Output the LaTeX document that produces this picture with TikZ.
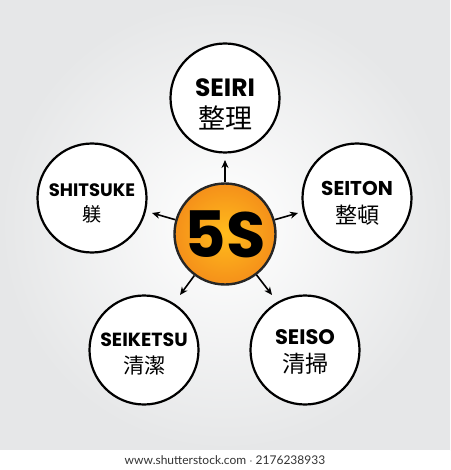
\documentclass[tikz,border=0pt]{standalone}
\usepackage{fontspec}
\usetikzlibrary{arrows.meta}
\newfontfamily\markfont{Poppins}
\newfontfamily\kanjifont{Noto Sans CJK JP}
\newfontfamily\footfont{Lato}
\definecolor{bggrey}{HTML}{E6E7E8}
\definecolor{coreorange}{HTML}{F5901A}
\definecolor{coreyellow}{HTML}{FFBC1C}
\newcommand{\stagelabel}[4]{{\markfont\bfseries\fontsize{#2}{#2}\selectfont #1}\\[8pt]%
  {\kanjifont\fontsize{#4}{#4}\selectfont #3}}

\begin{document}
\begin{tikzpicture}[x=1pt,y=-1pt,
    stage/.style={circle,draw=black,line width=2.2pt,fill=white,minimum size=109pt,inner sep=0pt},
    stagetext/.style={align=center,inner sep=0pt},
    stream/.style={-{Stealth[length=8pt,width=7pt]},line width=1.6pt}]
    % background
    \useasboundingbox (0,0) rectangle (450,470);
    \shade[inner color=white,outer color=bggrey] (0,0) rectangle (450,450);
    \fill[white] (0,450) rectangle (450,470);

    % 5S core
    \node [circle,draw=black!85,line width=2.4pt,minimum size=101pt,inner sep=0pt,
           inner color=coreyellow,outer color=coreorange] (core) at (225,234)
          {\markfont\bfseries\fontsize{64}{64}\selectfont 5S};

    % the five stages
    \node [stage] (seiri)    at (225,98)  {};
    \node [stage] (seiton)   at (357,198) {};
    \node [stage] (seiso)    at (305,350) {};
    \node [stage] (seiketsu) at (144,350) {};
    \node [stage] (shitsuke) at (92,198)  {};

    \node [stagetext] (seiri text)    at ([yshift=-6pt]seiri)    {\stagelabel{SEIRI}{25}{整理}{27}};
    \node [stagetext] (seiton text)   at ([yshift=-5pt]seiton)   {\stagelabel{SEITON}{20}{整頓}{22}};
    \node [stagetext] (seiso text)    at ([yshift=-2pt]seiso)    {\stagelabel{SEISO}{21}{清掃}{23}};
    \node [stagetext] (seiketsu text) at ([yshift=-4pt]seiketsu) {\stagelabel{SEIKETSU}{19}{清潔}{21}};
    \node [stagetext] (shitsuke text) at ([yshift=-5pt]shitsuke) {\stagelabel{SHITSUKE}{18}{躾}{19}};

    % arrow tips
    \coordinate (to seiri)    at (225,160);
    \coordinate (to seiton)   at (298,213);
    \coordinate (to seiso)    at (272,295);
    \coordinate (to seiketsu) at (180,295);
    \coordinate (to shitsuke) at (152,213);
    \foreach \s in {seiri,seiton,seiso,seiketsu,shitsuke}
      \draw [stream] (core) -- (to \s);

    \node [text=black!80] (credit) at (225,460)
          {\footfont\fontsize{12}{12}\selectfont www.shutterstock.com $\cdot$ 2176238933};
\end{tikzpicture}
\end{document}
